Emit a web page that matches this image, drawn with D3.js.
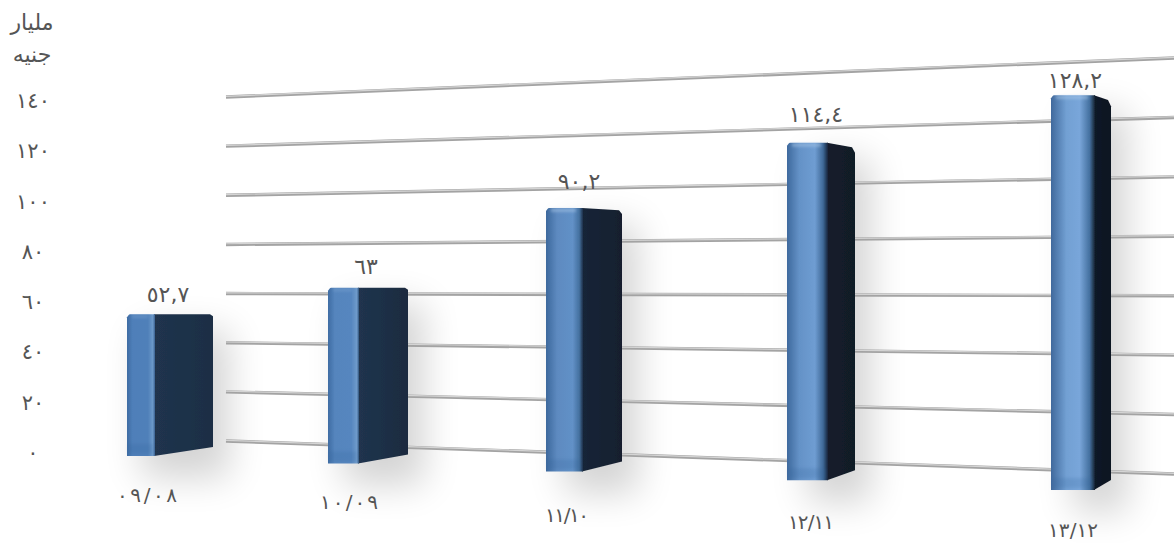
<!DOCTYPE html>
<html lang="ar">
<head>
<meta charset="utf-8">
<script src="https://cdnjs.cloudflare.com/ajax/libs/d3/7.8.5/d3.min.js"></script>
<style>
  html, body { margin: 0; padding: 0; background: #fff; }
  svg { display: block; }
  text { font-family: "DejaVu Sans", sans-serif; fill: #555; direction: ltr; unicode-bidi: plaintext; }
</style>
</head>
<body>
<svg id="chart" width="1174" height="543"></svg>
<script>
"use strict";

const categories = ["٠٩/٠٨", "١٠/٠٩", "١١/١٠", "١٢/١١", "١٣/١٢"];
const values = [52.7, 63, 90.2, 114.4, 128.2];
const valueLabels = ["٥٢,٧", "٦٣", "٩٠,٢", "١١٤,٤", "١٢٨,٢"];
const yTicks = [0, 20, 40, 60, 80, 100, 120, 140];
const yTickLabels = ["٠", "٢٠", "٤٠", "٦٠", "٨٠", "١٠٠", "١٢٠", "١٤٠"];
const unitLabel = ["مليار", "جنيه"];

const W = 1174, H = 543;
const svg = d3.select("#chart");

// the picture is a tilted 3d chart: the value axis opens up from left to right
const gridLeft = d3.scaleLinear().domain([0, 140]).range([441, 97]);
const gridRight = d3.scaleLinear().domain([0, 140]).range([474, 58]);
const axisY = d3.scaleLinear().domain([0, 140]).range([452, 100]);

// bars stand in front of the grid, so they have their own baseline and unit height
const barLefts = [127, 328, 546, 787, 1051];
const barBase = d3.scaleLinear().domain([127, 1051]).range([456, 490]);
const barUnits = [2.69, 2.79, 2.92, 2.95, 3.08];
const frontWidths = [28, 31, 37, 41, 44];
const sideWidths = [58, 49, 39, 27, 16];
const topDrops = [0, 0, 4, 8, 9];
const bottomRises = [8, 8, 9, 9, 9];
const labelX = [168, 366, 579, 816, 1075];
const labelY = [302, 274, 189, 122, 88];
const catX = [147, 349, 567, 811, 1073];
const catY = [502, 509, 522, 529, 537];
const catWidths = [60, 58, 44, 46, 50];

const defs = svg.append("defs");

defs.append("filter").attr("id", "shadow")
    .attr("x", "-100%").attr("y", "-40%").attr("width", "300%").attr("height", "180%")
  .append("feGaussianBlur").attr("stdDeviation", 18);

defs.append("filter").attr("id", "soft")
    .attr("x", "-10%").attr("y", "-10%").attr("width", "120%").attr("height", "120%")
  .append("feGaussianBlur").attr("stdDeviation", 0.5);

defs.append("filter").attr("id", "glow")
    .attr("x", "-20%").attr("y", "-100%").attr("width", "140%").attr("height", "300%")
  .append("feGaussianBlur").attr("stdDeviation", 1.5);

function horizontalGradient(id, stops) {
  const g = defs.append("linearGradient").attr("id", id)
    .attr("x1", 0).attr("x2", 1).attr("y1", 0).attr("y2", 0);
  stops.forEach(s => g.append("stop").attr("offset", s[0]).attr("stop-color", s[1]));
}

// front faces get lighter and blend softer into the side towards the right of the chart
const frontStops = [
  [[0, "#3f6ca3"], [0.2, "#4f7fb9"], [0.75, "#4f80b9"], [0.92, "#6d99c9"], [1, "#39608f"]],
  [[0, "#3f6ca3"], [0.22, "#5585bd"], [0.75, "#5686bf"], [0.93, "#6f9bcb"], [1, "#2f5279"]],
  [[0, "#3d689c"], [0.3, "#5d8ac0"], [0.72, "#6291c7"], [0.9, "#44709f"], [1, "#1d3048"]],
  [[0, "#3e699d"], [0.3, "#6492c7"], [0.68, "#6f9dd2"], [0.88, "#3f6998"], [1, "#16243a"]],
  [[0, "#40699c"], [0.35, "#72a0d3"], [0.65, "#79a6da"], [0.88, "#44709f"], [1, "#15202f"]]
];
const sideStops = [
  [[0, "#20344e"], [1, "#1c2e44"]],
  [[0, "#20344e"], [1, "#1b2b3f"]],
  [[0, "#172538"], [1, "#141f2e"]],
  [[0, "#131d2d"], [1, "#111a26"]],
  [[0, "#111a28"], [1, "#0f1620"]]
];
frontStops.forEach((s, i) => horizontalGradient(`front-${i}`, s));
sideStops.forEach((s, i) => horizontalGradient(`side-${i}`, s));

const bars = values.map((v, i) => {
  const x = barLefts[i];
  const bottom = barBase(x);
  const top = bottom - v * barUnits[i];
  return { i, x, top, bottom, fw: frontWidths[i], sw: sideWidths[i] };
});

// soft shadow behind every bar
svg.append("g").selectAll("rect").data(bars).join("rect")
    .attr("x", d => d.x + d.fw * 0.5)
    .attr("y", d => d.top + 16)
    .attr("width", d => d.fw * 0.5 + d.sw + 16)
    .attr("height", d => d.bottom - d.top + 6)
    .attr("fill", "#000")
    .attr("opacity", 0.17)
    .attr("filter", "url(#shadow)");

// grid lines: grey body with a lighter top edge
svg.append("g").selectAll("line").data(yTicks).join("line")
    .attr("x1", 226)
    .attr("x2", W)
    .attr("y1", d => gridLeft(d))
    .attr("y2", d => gridRight(d))
    .attr("stroke", "#a3a3a3")
    .attr("stroke-width", 3.4);

svg.append("g").selectAll("line").data(yTicks).join("line")
    .attr("x1", 226)
    .attr("x2", W)
    .attr("y1", d => gridLeft(d) - 0.7)
    .attr("y2", d => gridRight(d) - 0.7)
    .attr("stroke", "#d4d4d4")
    .attr("stroke-width", 1.2);

// bars
const barG = svg.append("g").selectAll("g").data(bars).join("g");

barG.append("path")
    .attr("fill", d => `url(#side-${d.i})`)
    .attr("filter", "url(#soft)")
    .attr("d", d => {
      const xa = d.x + d.fw, xb = xa + d.sw;
      const drop = topDrops[d.i], rise = bottomRises[d.i];
      return d3.line()([
        [xa - 1, d.top], [xb - 3, d.top + drop * 0.55], [xb, d.top + drop + 2],
        [xb, d.bottom - rise - 1], [xa - 1, d.bottom]
      ]) + "Z";
    });

barG.append("path")
    .attr("fill", d => `url(#front-${d.i})`)
    .attr("filter", "url(#soft)")
    .attr("d", d => {
      const xa = d.x + d.fw;
      return d3.line().curve(d3.curveMonotoneX)([
        [d.x, d.top + 3], [d.x + 3, d.top], [xa, d.top]
      ]) + `L${xa},${d.bottom}L${d.x},${d.bottom}Z`;
    });

// highlight along the top and darker band along the bottom of the front face
barG.append("rect")
    .attr("x", d => d.x + 5)
    .attr("y", d => d.top + 1)
    .attr("width", d => d.fw - 12)
    .attr("height", 2.5)
    .attr("fill", "#a9c8e8")
    .attr("opacity", d => d.i < 2 ? 0.25 : 0.7)
    .attr("filter", "url(#glow)");

barG.append("rect")
    .attr("x", d => d.x + 1)
    .attr("y", d => d.bottom - 12)
    .attr("width", d => d.fw - 3)
    .attr("height", 10)
    .attr("fill", "#2f6099")
    .attr("opacity", 0.18)
    .attr("filter", "url(#glow)");

// value labels
svg.append("g").selectAll("text").data(bars).join("text")
    .attr("x", d => labelX[d.i])
    .attr("y", d => labelY[d.i])
    .attr("text-anchor", "middle")
    .attr("font-size", 22)
    .attr("letter-spacing", 1)
    .text(d => valueLabels[d.i]);

// category labels
svg.append("g").selectAll("text").data(categories).join("text")
    .attr("x", (d, i) => catX[i])
    .attr("y", (d, i) => catY[i])
    .attr("text-anchor", "middle")
    .attr("font-size", 20)
    .attr("textLength", (d, i) => catWidths[i])
    .attr("lengthAdjust", "spacing")
    .text(d => d);

// y axis labels
svg.append("g").selectAll("text").data(yTicks).join("text")
    .attr("x", 33)
    .attr("y", d => axisY(d) + 8)
    .attr("text-anchor", "middle")
    .attr("font-size", 21)
    .attr("letter-spacing", 1)
    .text((d, i) => yTickLabels[i]);

svg.append("g").selectAll("text").data(unitLabel).join("text")
    .attr("x", 32)
    .attr("y", (d, i) => 30 + i * 32)
    .attr("text-anchor", "middle")
    .attr("font-size", 22)
    .text(d => d);
</script>
</body>
</html>
